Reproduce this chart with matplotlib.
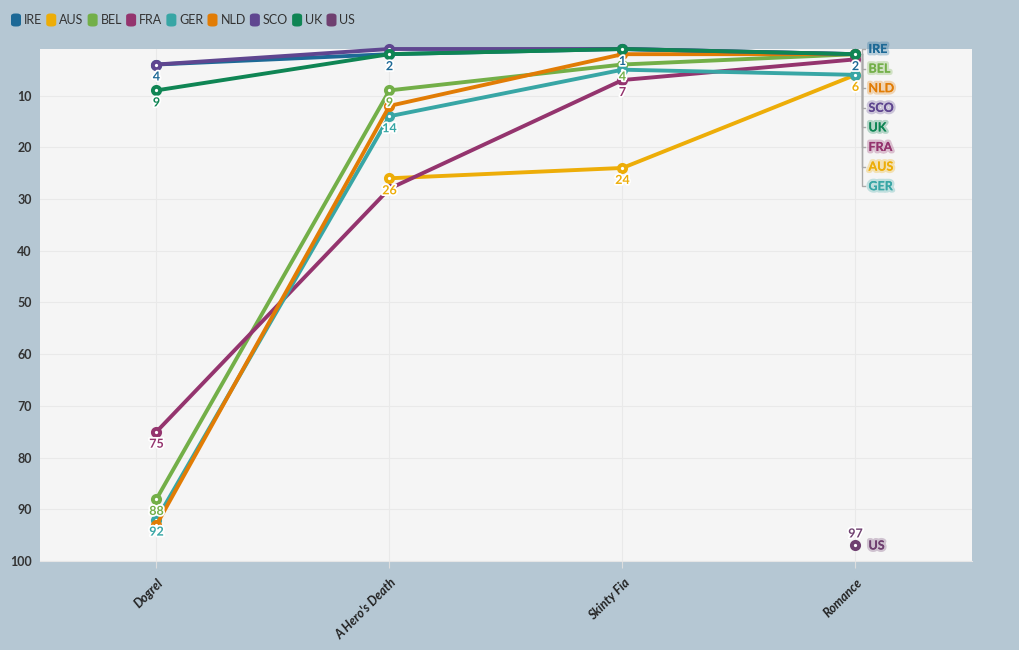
import matplotlib
matplotlib.use("Agg")
import matplotlib.pyplot as plt
import matplotlib.patheffects as pe
from matplotlib.patches import FancyBboxPatch
from matplotlib.transforms import ScaledTranslation
import matplotlib.colors as mcolors
import numpy as np

plt.rcParams['font.family'] = ['Lato', 'DejaVu Sans']

albums = ["Dogrel", "A Hero's Death", "Skinty Fia", "Romance"]
series_names = ["IRE", "AUS", "BEL", "FRA", "GER", "NLD", "SCO", "UK", "US"]
colors = ["#1D6996", "#EDAD08", "#73AF48", "#94346E", "#38A6A5",
          "#E17C05", "#5F4690", "#0F8554", "#6F4070"]
ire = [4, 2, 1, 2]
aus = [None, 26, 24, 6]
bel = [88, 9, 4, 2]
fra = [75, 28, 7, 3]
ger = [92, 14, 5, 6]
nld = [93, 12, 2, 2]
sco = [4, 1, 1, 2]
uk = [9, 2, 1, 2]
us = [None, None, None, 97]
data = [ire, aus, bel, fra, ger, nld, sco, uk, us]
yticks = [10, 20, 30, 40, 50, 60, 70, 80, 90, 100]

W, H = 1020, 650
fig = plt.figure(figsize=(W / 100, H / 100), dpi=100)
bg = "#b5c7d3"
fig.patch.set_facecolor(bg)
L, R, T, B = 40, 972, 49, 561
ax = fig.add_axes([L / W, 1 - B / H, (R - L) / W, (B - T) / H])
ax.set_facecolor("#f5f5f5")
ax.set_xlim(-0.5, len(albums) - 0.5)
ax.set_ylim(100, 1)
ppu = (B - T) / 99.0  # pixels per unit

for s in ax.spines.values():
    s.set_visible(False)
ax.spines['bottom'].set_visible(True)
ax.spines['bottom'].set_color("#e6e6e6")

ax.set_yticks(yticks)
ax.set_yticklabels([str(v) for v in yticks], fontsize=9, fontweight='bold', color="#333333")
ax.tick_params(axis='y', length=0, pad=6)
x = np.arange(len(albums))
ax.set_xticks(x)
ax.set_xticklabels(albums, rotation=45, ha='right', va='center', rotation_mode='anchor',
                   fontsize=9, fontweight='bold', fontstyle='italic', color="#222222")
ax.tick_params(axis='x', length=5, color="#dddddd", pad=9)
for lbl in ax.get_xticklabels():
    lbl.set_transform(lbl.get_transform() + ScaledTranslation(5 / 100, 0, fig.dpi_scale_trans))
ax.grid(True, color="#e9e9e9", linewidth=0.8)
ax.set_axisbelow(True)

off_px = 12
placed = {i: [] for i in range(len(albums))}
thr = 13.0 / ppu
for si, (name, vals, col) in enumerate(zip(series_names, data, colors)):
    xs = [i for i, v in enumerate(vals) if v is not None]
    ys = [vals[i] for i in xs]
    ax.plot(xs, ys, color=col, lw=2.8, marker='o', ms=5.2, mew=2.8,
            mfc='white', mec=col, solid_capstyle='round', zorder=3 + si * 0.01,
            clip_on=False)
    for xi, v in zip(xs, ys):
        if any(abs(v - p) < thr for p in placed[xi]):
            continue
        placed[xi].append(v)
        below = v + (off_px + 6) / ppu <= 100
        dy = -off_px if below else off_px
        ax.annotate(str(v), (xi, v), xytext=(0, dy * 0.72), textcoords='offset points',
                    ha='center', va='center', fontsize=9, fontweight='bold', color=col,
                    path_effects=[pe.withStroke(linewidth=2.5, foreground='white')],
                    zorder=10)

# end labels
last = len(albums) - 1
ends = [(vals[last], si) for si, vals in enumerate(data) if vals[last] is not None]
ends.sort()
gap = 19.6 / ppu
desired = [v for v, _ in ends]
pos = []
for d in desired:
    pos.append(d if not pos else max(d, pos[-1] + gap))
clusters = []
cur = [0]
for i in range(1, len(pos)):
    if pos[i] - pos[i - 1] <= gap + 1e-9 and pos[i] != desired[i]:
        cur.append(i)
    else:
        clusters.append(cur)
        cur = [i]
clusters.append(cur)
for c in clusters:
    shift = np.mean([pos[i] - desired[i] for i in c])
    new0 = max(1.0, pos[c[0]] - shift)
    delta = pos[c[0]] - new0
    for i in c:
        pos[i] -= delta

for (v, si), yl in zip(ends, pos):
    col = colors[si]
    halo = mcolors.to_rgba(col, 0.28)
    ax.annotate(series_names[si], (last, yl), xytext=(13 * 0.72, 0), textcoords='offset points',
                ha='left', va='center', fontsize=9, fontweight='bold', color=col,
                path_effects=[pe.withStroke(linewidth=3.5, foreground=halo)],
                annotation_clip=False, zorder=11)
    if abs(yl - v) > 0.3:
        xl = last + 7 / 233.0
        xr = last + 10 / 233.0
        ax.plot([xl, xl, xr], [v, yl, yl], color="#aaaaaa", lw=1, clip_on=False, zorder=2)

# legend
renderer = fig.canvas.get_renderer()
xpx = 11
ypx = 20
for name, col in zip(series_names, colors):
    box = FancyBboxPatch(((xpx) / W, 1 - (ypx + 6.5) / H), 10 / W, 13 / H,
                         boxstyle="round,pad=0,rounding_size=0.004", transform=fig.transFigure,
                         facecolor=col, edgecolor='none')
    fig.patches.append(box)
    t = fig.text((xpx + 13) / W, 1 - ypx / H, name, fontsize=9, color="#333333",
                 ha='left', va='center')
    bb = t.get_window_extent(renderer)
    xpx = xpx + 13 + bb.width + 4

fig.savefig("out.png", dpi=100, facecolor=bg)
